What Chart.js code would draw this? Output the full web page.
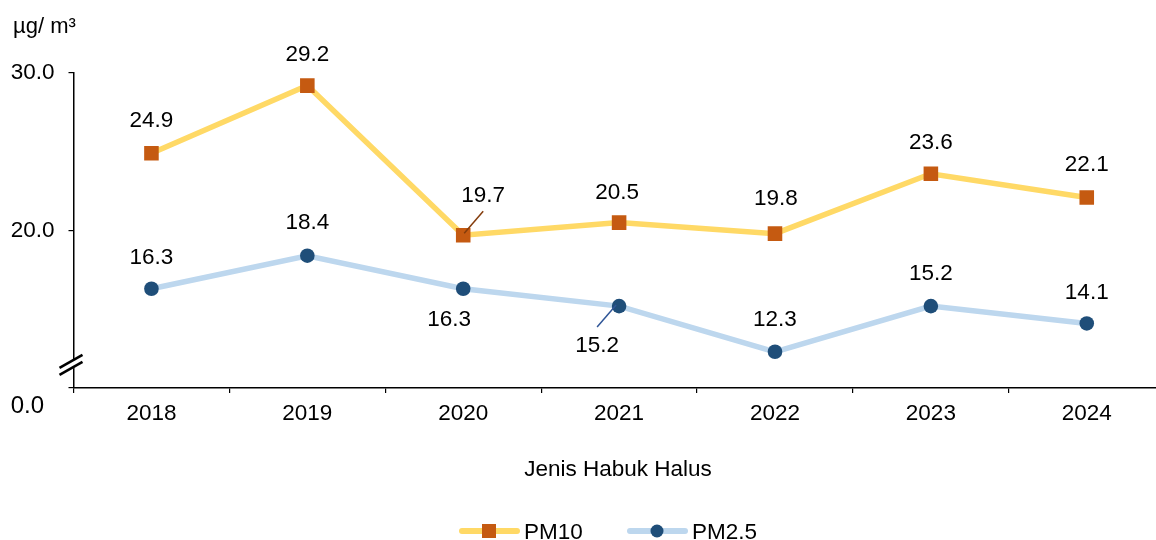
<!DOCTYPE html>
<html>
<head>
<meta charset="utf-8">
<title>PM10 / PM2.5</title>
<script src="https://cdn.jsdelivr.net/npm/chart.js@4/dist/chart.umd.min.js"></script>
<style>
  html, body { margin: 0; padding: 0; background: #ffffff; overflow: hidden; }
  #wrap { position: relative; width: 1175px; height: 540px; }
</style>
</head>
<body>
<div id="wrap"><canvas id="chart" width="1175" height="540"></canvas></div>
<script>
// Annual mean concentration of fine particulates (µg/m³)
const years = ['2018', '2019', '2020', '2021', '2022', '2023', '2024'];
const pm10 = [24.9, 29.2, 19.7, 20.5, 19.8, 23.6, 22.1];
const pm25 = [16.3, 18.4, 16.3, 15.2, 12.3, 15.2, 14.1];
const seriesNames = ['PM10', 'PM2.5'];
const yTicks = [10, 20, 30];
const yTickText = { 10: '0.0', 20: '20.0', 30: '30.0' };
const unitText = 'µg/ m³';
const axisTitle = 'Jenis Habuk Halus';

// Label placement: offset of each value label's centre from its point
const pm10LabelPos = [[0, -34], [0, -33], [20, -41], [-2, -32], [1, -37], [0, -33], [0, -34]];
const pm25LabelPos = [[0, -33], [0, -35], [-14, 29], [-22, 38], [0, -34], [0, -34], [0, -32]];
// Leader lines [dataset, index, fromDx, fromDy, toDx, toDy]
const leaders = [
  [0, 2, 20, -24, 1, -2, '#843C0C'],
  [1, 3, -22, 21, -3, -1, '#2F5597']
];

const FONT = '"Liberation Sans", Arial, Helvetica, sans-serif';
const C = {
  pm10Line: '#FFD966', pm10Mark: '#C55A11',
  pm25Line: '#BDD7EE', pm25Mark: '#1F4E79',
  text: '#000000', axis: '#000000'
};

const overlay = {
  id: 'overlay',
  afterDatasetsDraw(chart) {
    const ctx = chart.ctx;
    const area = chart.chartArea;
    ctx.save();

    // leader lines
    leaders.forEach(([ds, i, fx, fy, tx, ty, col]) => {
      const p = chart.getDatasetMeta(ds).data[i];
      ctx.beginPath();
      ctx.strokeStyle = col;
      ctx.lineWidth = 1.5;
      ctx.moveTo(p.x + fx, p.y + fy);
      ctx.lineTo(p.x + tx, p.y + ty);
      ctx.stroke();
    });

    // value labels
    ctx.fillStyle = C.text;
    ctx.font = '22.5px ' + FONT;
    ctx.textAlign = 'center';
    ctx.textBaseline = 'alphabetic';
    [[pm10, pm10LabelPos], [pm25, pm25LabelPos]].forEach(([vals, pos], ds) => {
      const meta = chart.getDatasetMeta(ds);
      vals.forEach((v, i) => {
        const p = meta.data[i];
        ctx.fillText(v.toFixed(1), p.x + pos[i][0], p.y + pos[i][1] + 8);
      });
    });

    // axis break marks
    const bx = area.left - 1, by = chart.scales.y.getPixelForValue(11.5);
    ctx.lineCap = 'butt';
    ctx.strokeStyle = '#ffffff';
    ctx.lineWidth = 7;
    ctx.beginPath();
    ctx.moveTo(bx - 12, by + 7);
    ctx.lineTo(bx + 11, by - 6);
    ctx.stroke();
    ctx.strokeStyle = C.axis;
    ctx.lineWidth = 2.6;
    [-3.5, 3.5].forEach(d => {
      ctx.beginPath();
      ctx.moveTo(bx - 13, by + 7 + d);
      ctx.lineTo(bx + 10, by - 6 + d);
      ctx.stroke();
    });

    // bottom tick label of the broken axis
    ctx.fillStyle = C.text;
    ctx.font = '24px ' + FONT;
    ctx.textAlign = 'right';
    ctx.fillText(yTickText[10], 44, 413);

    // unit label
    ctx.font = '22px ' + FONT;
    ctx.textAlign = 'left';
    ctx.fillText(unitText, 13, 33);

    // x axis title
    ctx.textAlign = 'center';
    ctx.font = '22.5px ' + FONT;
    ctx.fillText(axisTitle, 618, 476);

    // legend
    const items = [
      { x: 459, line: C.pm10Line, mark: C.pm10Mark, shape: 'rect', name: seriesNames[0] },
      { x: 627, line: C.pm25Line, mark: C.pm25Mark, shape: 'circle', name: seriesNames[1] }
    ];
    const ly = 531;
    items.forEach(it => {
      ctx.strokeStyle = it.line;
      ctx.lineWidth = 6;
      ctx.lineCap = 'round';
      ctx.beginPath();
      ctx.moveTo(it.x + 3, ly);
      ctx.lineTo(it.x + 58, ly);
      ctx.stroke();
      ctx.fillStyle = it.mark;
      const cx = it.x + 30;
      if (it.shape === 'rect') {
        ctx.fillRect(cx - 7, ly - 7, 14, 14);
      } else {
        ctx.beginPath();
        ctx.arc(cx, ly, 6.5, 0, Math.PI * 2);
        ctx.fill();
      }
      ctx.fillStyle = C.text;
      ctx.textAlign = 'left';
      ctx.fillText(it.name, it.x + 65, ly + 8);
    });

    ctx.restore();
  }
};

new Chart(document.getElementById('chart'), {
  type: 'line',
  data: {
    labels: years,
    datasets: [
      {
        label: seriesNames[0],
        data: pm10,
        borderColor: C.pm10Line,
        borderWidth: 5.5,
        pointStyle: 'rect',
        pointRadius: 10.3,
        pointBackgroundColor: C.pm10Mark,
        pointBorderColor: C.pm10Mark,
        pointBorderWidth: 0,
        tension: 0
      },
      {
        label: seriesNames[1],
        data: pm25,
        borderColor: C.pm25Line,
        borderWidth: 5.5,
        pointStyle: 'circle',
        pointRadius: 7.3,
        pointBackgroundColor: C.pm25Mark,
        pointBorderColor: C.pm25Mark,
        pointBorderWidth: 0,
        tension: 0
      }
    ]
  },
  options: {
    responsive: false,
    animation: false,
    devicePixelRatio: 1,
    layout: { padding: { top: 73, left: 0, right: 1, bottom: 0 } },
    plugins: { legend: { display: false }, tooltip: { enabled: false } },
    scales: {
      x: {
        type: 'category',
        offset: true,
        grid: { offset: true, drawOnChartArea: false, drawTicks: true, tickLength: 5, color: C.axis, lineWidth: 1.2 },
        border: { display: true, color: C.axis, width: 1.5 },
        ticks: { color: C.text, font: { family: FONT, size: 22.5 }, padding: 7, maxRotation: 0, autoSkip: false },
        afterFit(s) { s.height = 152; }
      },
      y: {
        min: 10,
        max: 30,
        afterBuildTicks(s) { s.ticks = yTicks.map(v => ({ value: v })); },
        grid: { drawOnChartArea: false, drawTicks: true, tickLength: 5, color: C.axis, lineWidth: 1.2 },
        border: { display: true, color: C.axis, width: 1.5 },
        ticks: {
          color: C.text,
          font: { family: FONT, size: 22.5 },
          padding: 14,
          callback: v => (v === 10 ? '' : yTickText[v])
        },
        afterFit(s) { s.width = 73.5; }
      }
    }
  },
  plugins: [overlay]
});
</script>
</body>
</html>
